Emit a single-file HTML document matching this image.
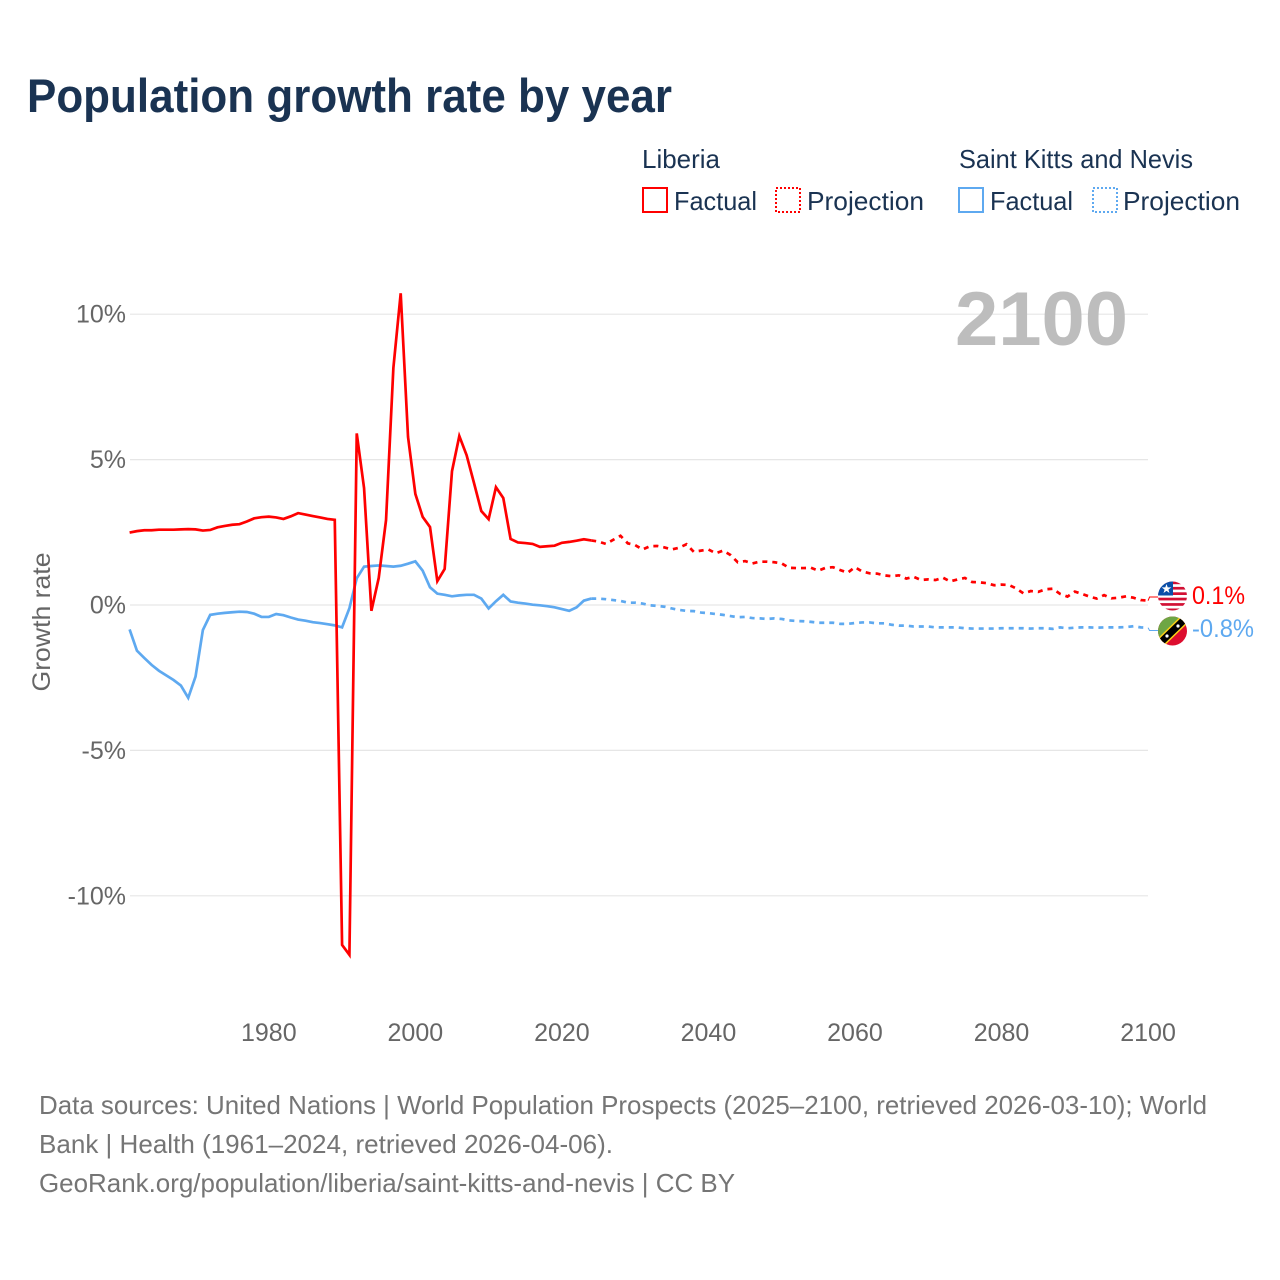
<!DOCTYPE html>
<html lang="en">
<head>
<meta charset="utf-8">
<title>Population growth rate by year</title>
<style>
html,body{margin:0;padding:0;background:#fff;}
svg{display:block;font-family:"Liberation Sans",sans-serif;}
</style>
</head>
<body>
<svg id="chart" xmlns="http://www.w3.org/2000/svg" width="1280" height="1280" viewBox="0 0 1280 1280">
  <rect x="0" y="0" width="1280" height="1280" fill="#ffffff"/>
  <text x="27" y="112" font-size="47" font-weight="700" fill="#1a3352" textLength="645" lengthAdjust="spacingAndGlyphs">Population growth rate by year</text>

  <g font-size="26" fill="#1a3352">
    <text x="642" y="168" textLength="78" lengthAdjust="spacingAndGlyphs">Liberia</text>
    <rect x="643" y="188" width="24" height="24" fill="none" stroke="#ff0000" stroke-width="2"/>
    <text x="674" y="210" textLength="83" lengthAdjust="spacingAndGlyphs">Factual</text>
    <rect x="776" y="188" width="24" height="24" fill="none" stroke="#ff0000" stroke-width="2" stroke-dasharray="2 2"/>
    <text x="807" y="210" textLength="117" lengthAdjust="spacingAndGlyphs">Projection</text>
    <text x="959" y="168" textLength="234" lengthAdjust="spacingAndGlyphs">Saint Kitts and Nevis</text>
    <rect x="959" y="188" width="24" height="24" fill="none" stroke="#5ea9f0" stroke-width="2"/>
    <text x="990" y="210" textLength="83" lengthAdjust="spacingAndGlyphs">Factual</text>
    <rect x="1093" y="188" width="24" height="24" fill="none" stroke="#5ea9f0" stroke-width="2" stroke-dasharray="2 2"/>
    <text x="1123" y="210" textLength="117" lengthAdjust="spacingAndGlyphs">Projection</text>
  </g>

  <g id="grid"></g>
  <g id="yticks" font-size="25" fill="#666666" text-anchor="end"></g>
  <g id="xticks" font-size="25" fill="#666666" text-anchor="middle"></g>
  <text transform="translate(50,622) rotate(-90)" text-anchor="middle" font-size="25" fill="#666666" textLength="139" lengthAdjust="spacingAndGlyphs">Growth rate</text>

  <text x="955" y="345" font-size="76" font-weight="700" fill="#bdbdbd" textLength="173" lengthAdjust="spacingAndGlyphs">2100</text>

  <g id="series"></g>

  <defs>
    <clipPath id="clip-liberia"><circle cx="1172.5" cy="596" r="14.5"/></clipPath>
    <clipPath id="clip-kitts"><circle cx="1172.5" cy="631" r="14.5"/></clipPath>
  </defs>
  <g clip-path="url(#clip-liberia)">
    <rect x="1158" y="581" width="30" height="30" fill="#ffffff"/>
    <rect x="1158" y="581.5" width="30" height="2.7" fill="#d21034"/>
    <rect x="1158" y="586.9" width="30" height="2.7" fill="#d21034"/>
    <rect x="1158" y="592.3" width="30" height="2.7" fill="#d21034"/>
    <rect x="1158" y="597.7" width="30" height="2.7" fill="#d21034"/>
    <rect x="1158" y="603.1" width="30" height="2.7" fill="#d21034"/>
    <rect x="1158" y="608.5" width="30" height="2.7" fill="#d21034"/>
    <rect x="1158" y="581" width="15" height="14.5" fill="#0a4fa8"/>
    <polygon points="1166.5,584 1167.7,587.4 1171.3,587.4 1168.4,589.6 1169.5,593 1166.5,590.9 1163.5,593 1164.6,589.6 1161.7,587.4 1165.3,587.4" fill="#ffffff"/>
  </g>
  <g clip-path="url(#clip-kitts)">
    <rect x="1158" y="616" width="30" height="30" fill="#dd0d2f"/>
    <polygon points="1158,616 1188,616 1158,646" fill="#6ea644"/>
    <line x1="1156" y1="647" x2="1189" y2="615" stroke="#fcd116" stroke-width="10"/>
    <line x1="1156" y1="647" x2="1189" y2="615" stroke="#000000" stroke-width="7"/>
    <circle cx="1167" cy="636" r="1.6" fill="#ffffff"/>
    <circle cx="1178" cy="626" r="1.6" fill="#ffffff"/>
  </g>
  <text x="1192" y="604" font-size="25" fill="#ff0000" textLength="53" lengthAdjust="spacingAndGlyphs">0.1%</text>
  <text x="1192" y="637" font-size="25" fill="#5ea9f0" textLength="62" lengthAdjust="spacingAndGlyphs">-0.8%</text>

  <g font-size="26" fill="#757575">
    <text x="39" y="1114" textLength="1168" lengthAdjust="spacingAndGlyphs">Data sources: United Nations | World Population Prospects (2025–2100, retrieved 2026-03-10); World</text>
    <text x="39" y="1153" textLength="574" lengthAdjust="spacingAndGlyphs">Bank | Health (1961–2024, retrieved 2026-04-06).</text>
    <text x="39" y="1192" textLength="696" lengthAdjust="spacingAndGlyphs">GeoRank.org/population/liberia/saint-kitts-and-nevis | CC BY</text>
  </g>
</svg>

<script>
const firstFactualYear = 1961;
const firstProjectionYear = 2024;
const yTickValues = [10, 5, 0, -5, -10];
const yTickLabels = ['10%', '5%', '0%', '-5%', '-10%'];
const xTickValues = [1980, 2000, 2020, 2040, 2060, 2080, 2100];

const liberiaFactual = [2.49,2.54,2.57,2.57,2.59,2.59,2.59,2.60,2.61,2.60,2.56,2.58,2.67,2.72,2.76,2.78,2.87,2.98,3.02,3.04,3.01,2.96,3.05,3.16,3.11,3.06,3.01,2.96,2.93,-11.69,-12.03,5.90,4.02,-0.20,0.93,2.92,8.15,10.72,5.78,3.82,3.03,2.68,0.82,1.24,4.60,5.81,5.15,4.20,3.23,2.95,4.05,3.68,2.27,2.15,2.13,2.10,2.00,2.02,2.04,2.14,2.17,2.21,2.26,2.22];
const liberiaProjection = [2.22,2.18,2.10,2.24,2.38,2.12,2.06,1.91,2.02,2.03,1.98,1.91,1.97,2.09,1.83,1.87,1.91,1.78,1.87,1.72,1.47,1.51,1.43,1.49,1.49,1.47,1.43,1.28,1.27,1.27,1.28,1.18,1.28,1.30,1.20,1.11,1.30,1.15,1.09,1.08,1.02,0.99,1.02,0.91,0.97,0.86,0.88,0.86,0.94,0.81,0.88,0.93,0.79,0.78,0.75,0.68,0.70,0.69,0.57,0.40,0.48,0.45,0.54,0.56,0.38,0.29,0.46,0.38,0.29,0.22,0.34,0.23,0.25,0.30,0.25,0.17,0.15];
const kittsFactual = [-0.84,-1.57,-1.82,-2.06,-2.26,-2.42,-2.58,-2.77,-3.19,-2.46,-0.86,-0.34,-0.30,-0.27,-0.25,-0.23,-0.24,-0.30,-0.41,-0.41,-0.31,-0.35,-0.43,-0.50,-0.54,-0.59,-0.62,-0.66,-0.70,-0.77,-0.11,0.92,1.32,1.34,1.36,1.34,1.32,1.35,1.42,1.50,1.18,0.61,0.39,0.35,0.30,0.33,0.35,0.35,0.22,-0.12,0.13,0.35,0.12,0.08,0.05,0.01,-0.01,-0.04,-0.08,-0.14,-0.20,-0.08,0.15,0.22];
const kittsProjection = [0.22,0.22,0.20,0.17,0.14,0.08,0.08,0.05,-0.01,-0.03,-0.06,-0.12,-0.17,-0.20,-0.21,-0.26,-0.28,-0.31,-0.34,-0.38,-0.42,-0.41,-0.45,-0.46,-0.48,-0.46,-0.48,-0.53,-0.55,-0.56,-0.58,-0.61,-0.61,-0.61,-0.65,-0.65,-0.62,-0.60,-0.60,-0.63,-0.63,-0.68,-0.71,-0.71,-0.74,-0.74,-0.74,-0.77,-0.77,-0.77,-0.77,-0.80,-0.81,-0.81,-0.81,-0.81,-0.80,-0.80,-0.80,-0.80,-0.81,-0.80,-0.80,-0.82,-0.77,-0.80,-0.78,-0.77,-0.77,-0.78,-0.77,-0.77,-0.77,-0.76,-0.73,-0.77,-0.78];

const SVG_NS = 'http://www.w3.org/2000/svg';
function xScale(year) { return 129.6 + (year - 1961) * 7.327; }
function yScale(value) { return 605 - value * 29.08; }
function make(tag, attrs, parent) {
  const el = document.createElementNS(SVG_NS, tag);
  for (const k in attrs) el.setAttribute(k, attrs[k]);
  parent.appendChild(el);
  return el;
}
const gridGroup = document.getElementById('grid');
const yTickGroup = document.getElementById('yticks');
const xTickGroup = document.getElementById('xticks');
const seriesGroup = document.getElementById('series');

yTickValues.forEach(function (v, i) {
  const line = make('line', {x1: 130, x2: 1148, y1: yScale(v), y2: yScale(v), stroke: '#e6e6e6', 'stroke-width': 1.2}, gridGroup);
  
  
  const label = make('text', {x: 126, y: yScale(v) + 8.5}, yTickGroup);
  label.textContent = yTickLabels[i];
  
  
});
xTickValues.forEach(function (year) {
  const label = make('text', {x: xScale(year), y: 1041}, xTickGroup);
  label.textContent = String(year);
  
  
});

function pointsFor(values, startYear) {
  return values.map(function (v, i) { return xScale(startYear + i).toFixed(2) + ',' + yScale(v).toFixed(2); }).join(' ');
}
function drawLine(values, startYear, color, dash) {
  const attrs = {points: pointsFor(values, startYear), fill: 'none', stroke: color, 'stroke-width': 2.7, 'stroke-linejoin': 'miter'};
  if (dash) attrs['stroke-dasharray'] = dash;
  return make('polyline', attrs, seriesGroup);
}
function drawLeader(values, color, targetY) {
  const lastX = xScale(firstProjectionYear + values.length - 1);
  const lastY = yScale(values[values.length - 1]);
  return make('polyline', {points: lastX + ',' + lastY + ' ' + (lastX + 1.5) + ',' + targetY + ' ' + (lastX + 10) + ',' + targetY, fill: 'none', stroke: color, 'stroke-width': 1}, seriesGroup);
}

const kf = drawLine(kittsFactual, firstFactualYear, '#5ea9f0');


const kp = drawLine(kittsProjection, firstProjectionYear, '#5ea9f0', '5 5');


const lf = drawLine(liberiaFactual, firstFactualYear, '#ff0000');


const lp = drawLine(liberiaProjection, firstProjectionYear, '#ff0000', '5 5');


const ll = drawLeader(liberiaProjection, '#ff0000', 597);


const kl = drawLeader(kittsProjection, '#5ea9f0', 630.5);


</script>
</body>
</html>
